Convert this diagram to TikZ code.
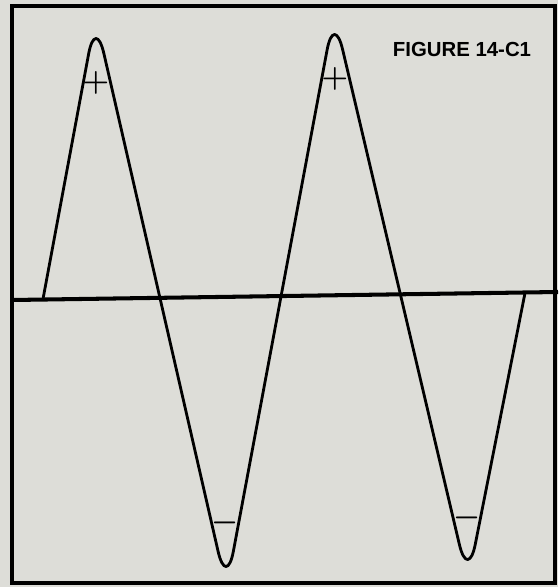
\documentclass[tikz,border=0pt]{standalone}
\usepackage{fontspec}
\newfontfamily\figfont{Liberation Sans}
\definecolor{paper}{RGB}{221,221,216}
\begin{document}
\begin{tikzpicture}[x=0.02cm,y=-0.02cm,every node/.style={inner sep=0pt},
  sign/.style={font=\fontsize{16}{16}\selectfont\boldmath}]
\useasboundingbox[fill=paper] (0,0) rectangle (558,587);
% frame and zero line
\draw[line width=2.3pt] (12,6) rectangle (555,583);
\draw[line width=2.3pt] (12,300) -- (558,292);
% the wave, two full cycles
\draw[line width=1.6pt,rounded corners=0.75cm,line join=round]
  (43,299) -- (95.5,17) -- (226.5,588) -- (334,13) -- (468,581) -- (525,293);
\node[font=\figfont\bfseries\fontsize{11.6}{12}\selectfont] (title) at (462,49) {FIGURE 14-C1};
\node[sign] (plusA) at (96,83) {$+$};
\node[sign] (plusB) at (335,79) {$+$};
\node[sign] (minusA) at (225,523) {$-$};
\node[sign] (minusB) at (467,518) {$-$};
\end{tikzpicture}
\end{document}
